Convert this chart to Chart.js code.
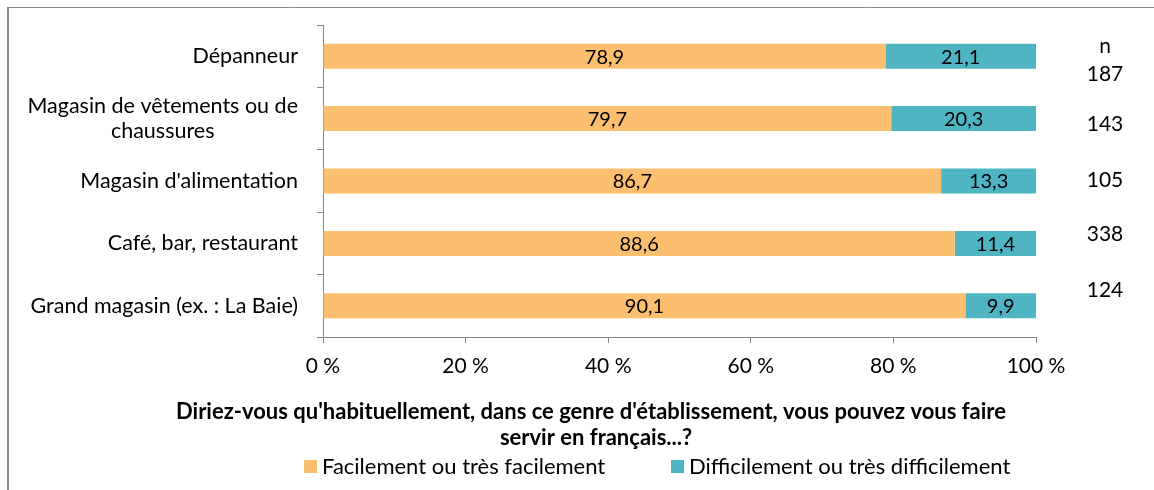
<!DOCTYPE html>
<html><head><meta charset="utf-8">
<script src="https://cdn.jsdelivr.net/npm/chart.js@4"></script>
<style>html,body{margin:0;padding:0;background:#fff}#wrap{position:relative;width:1154px;height:490px}</style>
</head><body><div id="wrap"><canvas id="c" width="1154" height="490"></canvas></div>
<script>
const categories = [["Dépanneur"], ["Magasin de vêtements ou de", "chaussures"], ["Magasin d'alimentation"], ["Café, bar, restaurant"], ["Grand magasin (ex. : La Baie)"]];
const facilement = [78.9, 79.7, 86.7, 88.6, 90.1];
const difficilement = [21.1, 20.3, 13.3, 11.4, 9.9];
const nValues = [187, 143, 105, 338, 124];
const nHeader = "n";
const xTickValues = [0, 20, 40, 60, 80, 100];
const seriesNames = ["Facilement ou très facilement", "Difficilement ou très difficilement"];
const titleLines = ["Diriez-vous qu'habituellement, dans ce genre d'établissement, vous pouvez vous faire", "servir en français...?"];

const FONT = "Lato";
const ORANGE = "#FBBF6F";
const TEAL = "#50B5C3";
const GRAY = "#868686";

function fmt(v) { return v.toFixed(1).replace(".", ","); }

const decor = {
  id: "decor",
  beforeDraw(chart) {
    const ctx = chart.ctx;
    ctx.save();
    ctx.strokeStyle = "#8a8a8a";
    ctx.lineWidth = 1;
    ctx.beginPath(); ctx.moveTo(8, 7.5); ctx.lineTo(1154, 7.5); ctx.stroke();
    ctx.lineWidth = 2;
    ctx.beginPath(); ctx.moveTo(8, 7); ctx.lineTo(8, 490); ctx.stroke();
    ctx.restore();
  },
  afterDraw(chart) {
    const ctx = chart.ctx;
    const y = chart.scales.y;
    ctx.save();
    ctx.fillStyle = "#000";
    ctx.textBaseline = "middle";
    // category labels
    ctx.font = "21.5px " + FONT;
    const rightEdge = y.right - 25;
    categories.forEach((lines, i) => {
      const cy = y.getPixelForValue(i);
      const w = Math.max(...lines.map(l => ctx.measureText(l).width));
      const lh = 25;
      const startY = cy - (lines.length - 1) * lh / 2;
      ctx.textAlign = "center";
      lines.forEach((l, k) => ctx.fillText(l, rightEdge - w / 2, startY + k * lh));
    });
    // data labels
    ctx.font = "20px " + FONT;
    ctx.textAlign = "center";
    chart.data.datasets.forEach((ds, di) => {
      chart.getDatasetMeta(di).data.forEach((el, i) => {
        ctx.fillText(fmt(ds.data[i]), (el.x + el.base) / 2, el.y + 1);
      });
    });
    // n column
    ctx.font = "21px " + FONT;
    const nx = 1105;
    const nOffsets = [18, 6, -1, -9, -16];
    ctx.fillText(nHeader, nx, y.getPixelForValue(0) - 10);
    nValues.forEach((v, i) => ctx.fillText(String(v), nx, y.getPixelForValue(i) + nOffsets[i]));
    // title
    ctx.font = "bold 22px " + FONT;
    ctx.fillText(titleLines[0], 591, 412);
    ctx.fillText(titleLines[1], 596, 438);
    // legend
    ctx.font = "22px " + FONT;
    ctx.textAlign = "left";
    const leg = [[304, ORANGE], [671, TEAL]];
    chart.data.datasets.forEach((ds, di) => {
      const [lx, col] = leg[di];
      ctx.fillStyle = col;
      ctx.fillRect(lx, 460, 13, 13);
      ctx.fillStyle = "#000";
      ctx.fillText(ds.label, lx + 18, 467);
    });
    ctx.restore();
  }
};

new Chart(document.getElementById("c"), {
  type: "bar",
  data: {
    labels: categories,
    datasets: [
      { label: seriesNames[0], data: facilement, backgroundColor: ORANGE, borderWidth: 0 },
      { label: seriesNames[1], data: difficilement, backgroundColor: TEAL, borderWidth: 0 }
    ]
  },
  options: {
    indexAxis: "y",
    responsive: false,
    animation: false,
    layout: { padding: { top: 25, right: 118, left: 0, bottom: 0 } },
    plugins: { legend: { display: false }, tooltip: { enabled: false }, title: { display: false } },
    datasets: { bar: { barPercentage: 0.4, categoryPercentage: 1 } },
    scales: {
      x: {
        stacked: true, min: 0, max: 100,
        afterBuildTicks(s) { s.ticks = xTickValues.map(v => ({ value: v })); },
        afterFit(s) { s.height = 490 - 337; },
        border: { display: true, color: GRAY, width: 1 },
        grid: { display: true, drawOnChartArea: false, drawTicks: true, tickLength: 6, color: GRAY },
        ticks: { color: "#000", font: { family: FONT, size: 21 }, padding: 11, callback: v => v + " %", maxRotation: 0 }
      },
      y: {
        stacked: true,
        afterFit(s) { s.width = 323; },
        border: { display: true, color: GRAY, width: 1 },
        grid: { display: true, drawOnChartArea: false, drawTicks: true, tickLength: 6, color: GRAY, offset: true },
        ticks: { display: false }
      }
    }
  },
  plugins: [decor]
});
</script></body></html>
